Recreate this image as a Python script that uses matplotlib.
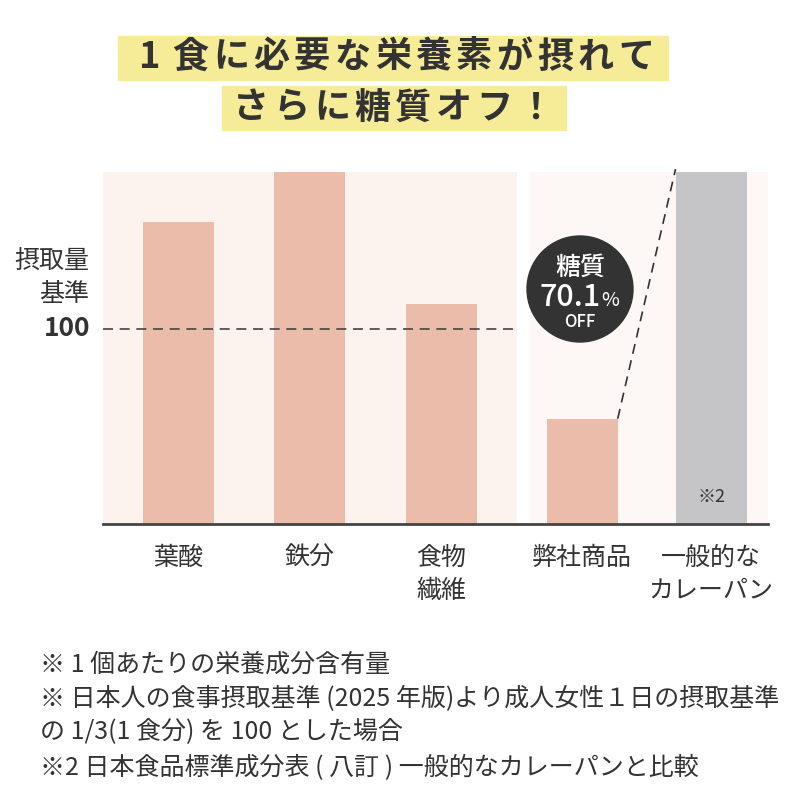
import matplotlib.pyplot as plt
from matplotlib.patches import Circle, Rectangle

plt.rcParams['font.family'] = ['Noto Sans CJK JP', 'DejaVu Sans']

# data
categories = ['葉酸', '鉄分', '食物\n繊維', '弊社商品', '一般的な\nカレーパン']
values = [155, 180.5, 113, 54, 180.5]
ref_value = 100
title_lines = ['1食に必要な栄養素が摂れて', 'さらに糖質オフ！']
notes = ['※ 1 個あたりの栄養成分含有量',
         '※ 日本人の食事摂取基準 (2025 年版)より成人女性１日の摂取基準',
         'の 1/3(1 食分) を 100 とした場合',
         '※2 日本食品標準成分表 ( 八訂 ) 一般的なカレーパンと比較']

pos = [0, 1, 2, 3.07, 4.05]
bar_w = 0.54
colors = ['#ecbcab', '#ecbcab', '#ecbcab', '#ecbcab', '#c5c5c7']
text_c = '#333333'

fig = plt.figure(figsize=(8, 8), dpi=100)
fig.patch.set_facecolor('white')

# title with yellow boxes
fig.patches.append(Rectangle((118/800, 1-80/800), 550/800, 44/800,
                             transform=fig.transFigure, color='#f6ec98', zorder=0))
fig.patches.append(Rectangle((222/800, 1-130/800), 344/800, 44/800,
                             transform=fig.transFigure, color='#f6ec98', zorder=0))
pitch = 40.5
for line, yc in zip(title_lines, [57, 108]):
    x0 = 393 - pitch * (len(line) - 1) / 2
    for i, ch in enumerate(line):
        fig.text((x0 + i*pitch)/800, 1-yc/800, ch, ha='center', va='center',
                 fontsize=26, fontweight='bold', color=text_c)

ax = fig.add_axes([103/800, 276/800, 665/800, 352/800])
ax.set_xlim(-0.574, 4.483)
ax.set_ylim(0, 180.5)
ax.axvspan(-0.574, 2.574, color='#fcf3ef', zorder=0, lw=0)
ax.axvspan(2.673, 4.483, color='#fdf8f5', zorder=0, lw=0)
ax.bar(pos, values, width=bar_w, color=colors, zorder=2)
ax.hlines(ref_value, -0.574, 2.574, colors='#444444', linestyles=(0, (6, 4)), lw=1.2, zorder=3)

# dashed connector from our product to general curry bread
ax.plot([pos[3] + bar_w/2, pos[4] - bar_w/2], [values[3], values[4] + 1.5],
        color='#333333', lw=1.2, ls=(0, (6, 4)), zorder=3, clip_on=False)

ax.text(pos[4], 14, '※2', ha='center', va='center', fontsize=13, color=text_c, zorder=4)

for s in ['top', 'right', 'left']:
    ax.spines[s].set_visible(False)
ax.spines['bottom'].set_color('#444444')
ax.spines['bottom'].set_linewidth(2)
ax.set_yticks([])
ax.set_xticks(pos)
ax.set_xticklabels(categories, fontsize=18, color=text_c, linespacing=1.35)
ax.tick_params(axis='x', length=0, pad=15)

# left labels
fig.text(89/800, 1-262/800, '摂取量', ha='right', va='center', fontsize=18, color=text_c)
fig.text(89/800, 1-294/800, '基準', ha='right', va='center', fontsize=18, color=text_c)
fig.text(90/800, 1-329/800, '100', ha='right', va='center', fontsize=19,
         fontweight='bold', color=text_c)

# badge
fig.patches.append(Circle((580/800, 1-289/800), 53/800, transform=fig.transFigure,
                          color='#333333', zorder=5))
fig.text(580/800, 1-268/800, '糖質', ha='center', va='center', fontsize=18,
         fontweight='medium', color='white', zorder=6)
fig.text(601/800, 1-297/800, '70.1', ha='right', va='center', fontsize=22,
         fontweight='medium', color='white', zorder=6)
fig.text(601/800, 1-300/800, '%', ha='left', va='center', fontsize=14,
         color='white', zorder=6)
fig.text(580/800, 1-322/800, 'OFF', ha='center', va='center', fontsize=12,
         fontweight='medium', color='white', zorder=6)

# footnotes
for t, yc in zip(notes, [665, 699, 732, 768]):
    fig.text(40/800, 1-yc/800, t, ha='left', va='center', fontsize=18, color=text_c)

fig.savefig('out.png', dpi=100)
